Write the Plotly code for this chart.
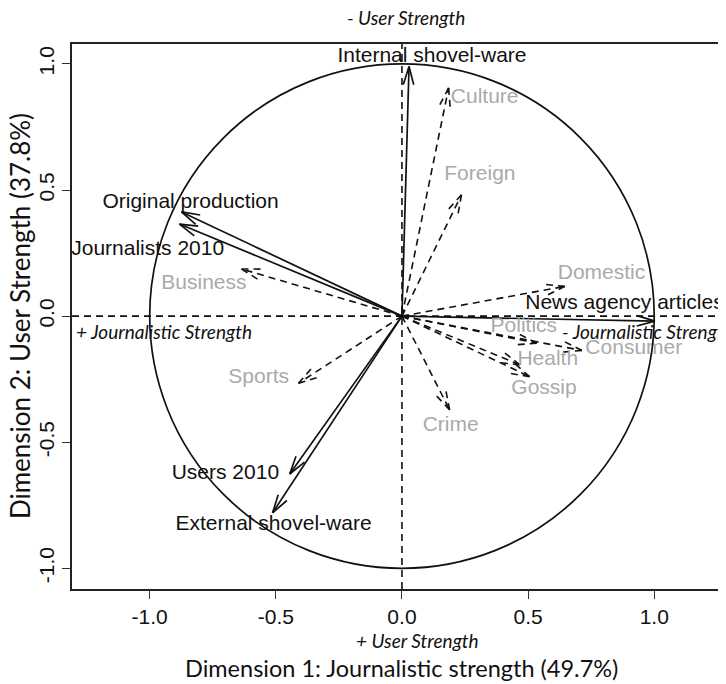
import math
import plotly.graph_objects as go

# ---------------- data ----------------
# active variables (solid arrows)
active_names = ["Internal shovel-ware", "Original production", "Journalists 2010",
                "News agency articles", "Users 2010", "External shovel-ware"]
active_x = [0.028, -0.874, -0.882, 1.003, -0.445, -0.513]
active_y = [0.990, 0.413, 0.365, -0.020, -0.626, -0.780]
active_label_x = [0.119, -0.838, -1.008, 0.882, -0.70, -0.509]
active_label_y = [1.030, 0.448, 0.263, 0.051, -0.626, -0.828]

# supplementary variables (dashed arrows, grey labels)
supp_names = ["Culture", "Foreign", "Domestic", "Business", "Politics", "Consumer",
              "Health", "Gossip", "Sports", "Crime"]
supp_x = [0.185, 0.236, 0.646, -0.636, 0.534, 0.713, 0.467, 0.506, -0.410, 0.189]
supp_y = [0.905, 0.481, 0.118, 0.187, -0.107, -0.136, -0.193, -0.240, -0.266, -0.372]
supp_label_x = [0.328, 0.309, 0.791, -0.785, 0.483, 0.919, 0.578, 0.563, -0.568, 0.193]
supp_label_y = [0.865, 0.561, 0.168, 0.127, -0.044, -0.131, -0.173, -0.286, -0.244, -0.435]

tick_vals = [-1.0, -0.5, 0.0, 0.5, 1.0]
tick_text = ["-1.0", "-0.5", "0.0", "0.5", "1.0"]

x_title = "Dimension 1: Journalistic strength (49.7%)"
y_title = "Dimension 2: User Strength (37.8%)"

# ---------------- helpers ----------------
HEAD_LEN = 0.075
HEAD_ANG = math.radians(16)


def arrow_paths(xs, ys):
    px, py = [], []
    for x, y in zip(xs, ys):
        px += [0, x, None]
        py += [0, y, None]
        th = math.atan2(y, x)
        for s in (1, -1):
            px += [x, x - HEAD_LEN * math.cos(th + s * HEAD_ANG), None]
            py += [y, y - HEAD_LEN * math.sin(th + s * HEAD_ANG), None]
    return px, py


LABEL_FONT = "Liberation Sans, Arial, sans-serif"
GILL = "Lato, Open Sans, sans-serif"
GREY = "#aaaaaa"
INK = "#111111"

fig = go.Figure()

sx, sy = arrow_paths(supp_x, supp_y)
fig.add_trace(go.Scatter(x=sx, y=sy, mode="lines",
                         line=dict(color=INK, width=1.6, dash="7px,5px"),
                         hoverinfo="skip", showlegend=False))
ax_, ay_ = arrow_paths(active_x, active_y)
fig.add_trace(go.Scatter(x=ax_, y=ay_, mode="lines",
                         line=dict(color=INK, width=1.7),
                         hoverinfo="skip", showlegend=False))

fig.add_trace(go.Scatter(x=supp_label_x, y=supp_label_y, mode="text", text=supp_names,
                         textfont=dict(family=LABEL_FONT, size=21, color=GREY),
                         hoverinfo="skip", showlegend=False, cliponaxis=False))
fig.add_trace(go.Scatter(x=active_label_x, y=active_label_y, mode="text", text=active_names,
                         textfont=dict(family=LABEL_FONT, size=21, color=INK),
                         hoverinfo="skip", showlegend=False, cliponaxis=False))

XR = [-1.308, 1.2845]
YR = [-1.082, 1.079]

shapes = [
    dict(type="circle", xref="x", yref="y", x0=-1, y0=-1, x1=1, y1=1,
         line=dict(color=INK, width=1.7), layer="above"),
    dict(type="line", xref="x", yref="paper", x0=0, x1=0, y0=0, y1=1,
         line=dict(color=INK, width=1.6, dash="7px,5px")),
    dict(type="line", xref="paper", yref="y", x0=0, x1=1, y0=0, y1=0,
         line=dict(color=INK, width=1.6, dash="7px,5px")),
]

annotations = [
    dict(text="<i>- User Strength</i>", xref="x", yref="paper", x=0.015, y=1, yshift=27,
         showarrow=False, font=dict(family=GILL, size=19, color=INK), yanchor="middle"),
    dict(text="<i>+ User Strength</i>", xref="x", yref="paper", x=0.062, y=0, yshift=-51,
         showarrow=False, font=dict(family=GILL, size=19, color=INK), yanchor="middle"),
    dict(text="<i>+ Journalistic Strength</i>", xref="x", yref="y", x=-1.300, y=-0.060,
         xanchor="left", showarrow=False, font=dict(family=GILL, size=19, color=INK)),
    dict(text="<i>- Journalistic Strength</i>", xref="x", yref="y", x=0.626, y=-0.060,
         xanchor="left", showarrow=False, font=dict(family=GILL, size=19, color=INK)),
    dict(text=x_title, xref="x", yref="paper", x=0, y=0, yshift=-79,
         showarrow=False, font=dict(family=GILL, size=23.5, color=INK), yanchor="middle"),
    dict(text=y_title, xref="paper", yref="y", x=0, y=0, xshift=-52, textangle=-90,
         showarrow=False, font=dict(family=GILL, size=26, color=INK), xanchor="center"),
]

# page body adds an 8px offset, so the figure is drawn 8px smaller
fig.update_layout(
    width=718, height=676,
    margin=dict(l=64, r=0, t=36, b=95),
    paper_bgcolor="white", plot_bgcolor="white",
    shapes=shapes, annotations=annotations,
    xaxis=dict(range=XR, tickvals=tick_vals, ticktext=tick_text, showgrid=False,
               zeroline=False, showline=True, linecolor="#222222", linewidth=2,
               mirror=True, ticks="outside", ticklen=8, tickwidth=1.3, tickcolor="#333333",
               tickfont=dict(family=LABEL_FONT, size=21, color=INK)),
    yaxis=dict(range=YR, tickvals=tick_vals, ticktext=tick_text, showgrid=False,
               zeroline=False, showline=True, linecolor="#222222", linewidth=2,
               ticks="outside", ticklen=8, tickwidth=1.3, tickcolor="#333333", tickangle=-90,
               tickfont=dict(family=LABEL_FONT, size=21, color=INK)),
)

fig.write_html("out.html")
